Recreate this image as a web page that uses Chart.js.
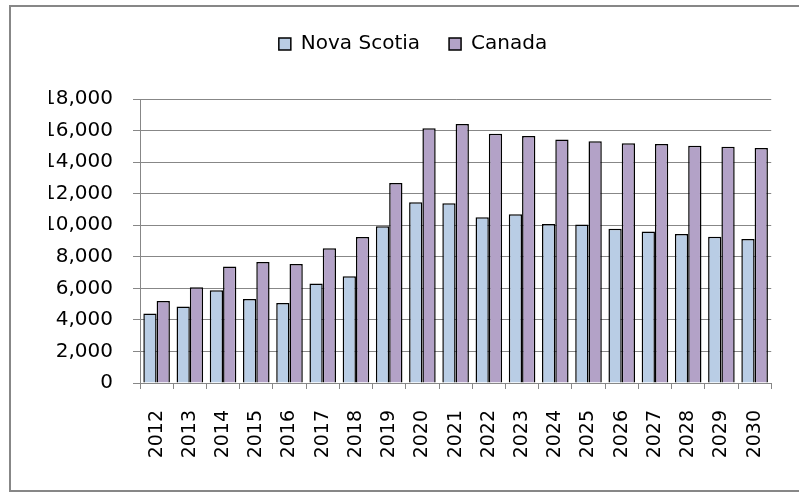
<!DOCTYPE html>
<html>
<head>
<meta charset="utf-8">
<script src="https://cdn.jsdelivr.net/npm/chart.js@4.4.1/dist/chart.umd.min.js"></script>
<style>
html,body{margin:0;padding:0;background:#ffffff;}
canvas{display:block;}
</style>
</head>
<body>
<canvas id="c" width="799" height="493"></canvas>
<script>
const years = ['2012','2013','2014','2015','2016','2017','2018','2019','2020','2021','2022','2023','2024','2025','2026','2027','2028','2029','2030'];
const novaScotia = [4400, 4850, 5880, 5330, 5070, 6300, 6760, 9930, 11450, 11390, 10500, 10690, 10080, 10040, 9780, 9610, 9440, 9270, 9130];
const canada = [5200, 6070, 7390, 7670, 7540, 8540, 9250, 12680, 16140, 16420, 15800, 15660, 15440, 15320, 15190, 15150, 15040, 14980, 14890];
const seriesNames = ['Nova Scotia', 'Canada'];
const yMin = 0, yMax = 18000, yStep = 2000;

const FONT = 'DejaVu Sans';
const GRID = '#878787';

const framePlugin = {
  id: 'frame',
  afterDraw(chart) {
    const ctx = chart.ctx;
    ctx.save();
    ctx.strokeStyle = GRID;
    ctx.lineWidth = 2;
    ctx.beginPath();
    ctx.moveTo(802, 6);
    ctx.lineTo(10, 6);
    ctx.lineTo(10, 491);
    ctx.lineTo(802, 491);
    ctx.stroke();
    ctx.restore();
  }
};

const legendHeightPlugin = {
  id: 'legendHeight',
  beforeLayout(chart) {
    const lg = chart.legend;
    if (lg && !lg._patchedFit) {
      const f = lg.fit;
      lg.fit = function () { f.call(this); this.height = 94; };
      lg._patchedFit = true;
    }
  }
};

new Chart(document.getElementById('c'), {
  type: 'bar',
  data: {
    labels: years,
    datasets: [
      { label: seriesNames[0], data: novaScotia, backgroundColor: '#B9CDE5', borderColor: '#000000', borderWidth: 1.5 },
      { label: seriesNames[1], data: canada, backgroundColor: '#B3A2C7', borderColor: '#000000', borderWidth: 1.5 }
    ]
  },
  options: {
    responsive: false,
    animation: false,
    devicePixelRatio: 1,
    datasets: { bar: { categoryPercentage: 0.8, barPercentage: 1.0 } },
    layout: { padding: { left: 49, right: 22, top: 5, bottom: 5 } },
    plugins: {
      tooltip: { enabled: false },
      legend: {
        position: 'top',
        labels: {
          boxWidth: 12,
          boxHeight: 12,
          padding: 29,
          color: '#000000',
          font: { family: FONT, size: 20 }
        }
      }
    },
    scales: {
      x: {
        offset: true,
        grid: { display: true, drawOnChartArea: false, drawTicks: true, tickLength: 6, offset: true, color: GRID },
        border: { display: true, color: GRID, width: 1 },
        ticks: { color: '#000000', font: { family: FONT, size: 19 }, minRotation: 90, maxRotation: 90, padding: 21, autoSkip: false },
        afterFit(scale) { scale.height = 105; }
      },
      y: {
        min: yMin,
        max: yMax,
        grid: { color: GRID, lineWidth: 1, drawTicks: true, tickLength: 7 },
        border: { display: true, color: GRID, width: 1 },
        ticks: {
          stepSize: yStep,
          color: '#000000',
          font: { family: FONT, size: 20 },
          padding: 20,
          callback: (v) => Number(v).toLocaleString('en-US')
        },
        afterFit(scale) { scale.width = 91; }
      }
    }
  },
  plugins: [legendHeightPlugin, framePlugin]
});
</script>
</body>
</html>
